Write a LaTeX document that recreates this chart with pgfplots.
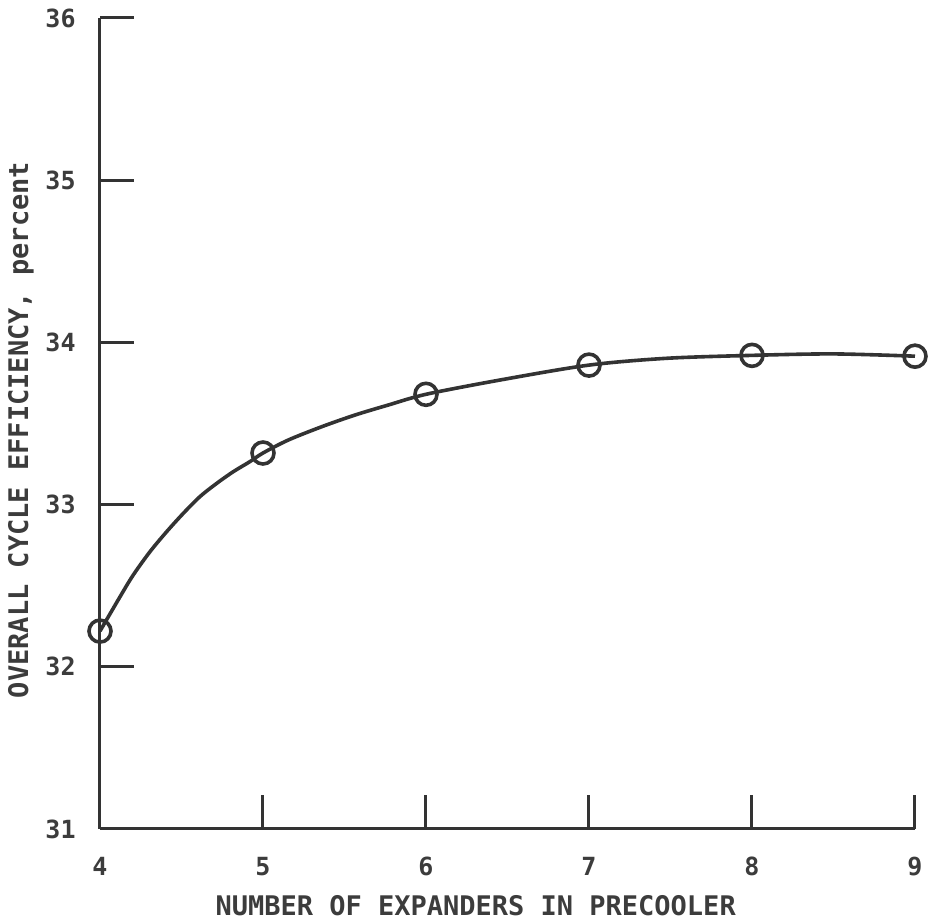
\documentclass[border=0pt]{standalone}
\usepackage{fontspec}
\setmainfont{DejaVu Sans Mono}
\usepackage{pgfplots}
\pgfplotsset{compat=1.18}
\definecolor{ink}{HTML}{333333}
\definecolor{txt}{HTML}{3c3c3c}
\begin{document}
\begin{tikzpicture}
\begin{axis}[
  scale only axis,
  width=407.5pt, height=405.5pt,
  xmin=4, xmax=9, ymin=31, ymax=36,
  axis lines*=left,
  axis line style={ink, line width=1.5pt, -},
  xtick={4,5,6,7,8,9}, ytick={31,32,33,34,35,36},
  tick style={ink, line width=1.5pt},
  tick align=inside,
  major tick length=17pt,
  /pgf/number format/assume math mode=true,
  ticklabel style={font=\bfseries\fontsize{12.5}{14}\selectfont, text=txt, inner sep=0pt},
  yticklabel style={anchor=east, xshift=-12pt},
  xticklabel style={anchor=north, yshift=-14pt},
  xlabel={NUMBER OF EXPANDERS IN PRECOOLER},
  ylabel={OVERALL CYCLE EFFICIENCY, percent},
  every axis x label/.style={at={(axis description cs:0.461,-0.094)}, anchor=center,
     font=\bfseries\fontsize{13.5}{15}\selectfont, text=txt},
  every axis y label/.style={at={(axis description cs:-0.097,0.492)}, anchor=center, rotate=90,
     font=\bfseries\fontsize{13.5}{15}\selectfont, text=txt},
  clip=false,
]
% curve
\addplot[ink, line width=1.8pt, smooth, tension=0.5, no markers]
  coordinates {(4,32.22) (4.123,32.432) (4.204,32.566) (4.307,32.710) (4.409,32.833)
  (4.511,32.946) (4.613,33.049) (4.716,33.131) (4.818,33.203) (4.920,33.265)
  (5,33.318) (5.155,33.398) (5.360,33.480) (5.564,33.552) (5.769,33.614)
  (6,33.68) (6.454,33.768) (7,33.86) (7.477,33.902) (8,33.92) (8.5,33.929) (9,33.915)};
% data points
\addplot[only marks, mark=o, mark size=5.5pt,
  mark options={fill=white, line width=1.8pt, draw=ink}]
  coordinates {(4,32.22) (5,33.318) (6,33.68) (7,33.86) (8,33.92) (9,33.915)};
\coordinate (O) at (axis cs:4,31);
\end{axis}
\pgfresetboundingbox
\path[use as bounding box] ([shift={(-50pt,-47.5pt)}]O) rectangle ([shift={(415.5pt,414.5pt)}]O);
\end{tikzpicture}
\end{document}
